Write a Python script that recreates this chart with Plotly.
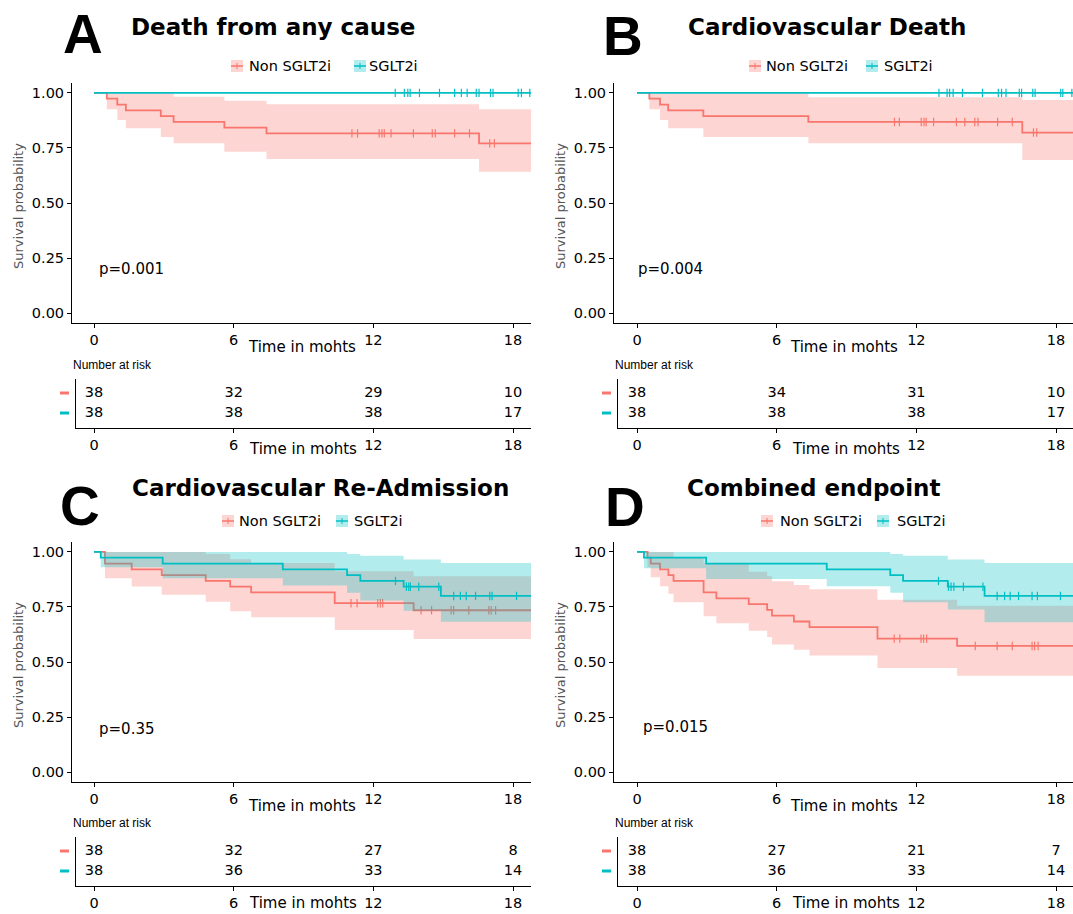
import plotly.graph_objects as go

W, H = 1073, 914
RED = "#F8766D"
TEAL = "#00BFC4"
RED_BAND = "rgba(248,118,109,0.3)"
TEAL_BAND = "rgba(0,191,196,0.3)"
END_T = 18.9

# ---------------- data ----------------
titles = ["Death from any cause", "Cardiovascular Death",
          "Cardiovascular Re-Admission", "Combined endpoint"]
letters = ["A", "B", "C", "D"]
pvals = ["p=0.001", "p=0.004", "p=0.35", "p=0.015"]
groups = ["Non SGLT2i", "SGLT2i"]
risk_times = [0, 6, 12, 18]
x_ticks = [0, 6, 12, 18]
y_ticks = [0, 0.25, 0.5, 0.75, 1.0]
y_ticklabels = ["0.00", "0.25", "0.50", "0.75", "1.00"]

# Panel A
A_red_t = [0.55, 1.0, 1.37, 2.87, 3.42, 5.6, 7.41, 16.54]
A_red_s = [0.974, 0.947, 0.921, 0.895, 0.868, 0.842, 0.816, 0.771]
A_red_up = [1.0, 1.0, 1.0, 1.0, 0.983, 0.964, 0.949, 0.926]
A_red_lo = [0.926, 0.877, 0.839, 0.80, 0.771, 0.733, 0.70, 0.642]
A_red_cens = [11.08, 11.32, 12.25, 12.37, 12.47, 12.76, 13.72, 14.53, 14.66,
              15.49, 16.13, 17.0, 17.2]
A_teal_t = []
A_teal_s = []
A_teal_up = []
A_teal_lo = []
A_teal_cens = [12.94, 13.33, 13.48, 13.58, 13.98, 14.84, 15.49, 15.78, 16.03,
               16.42, 16.54, 17.03, 17.14, 18.22, 18.36, 18.72, 18.87]
A_risk_red = [38, 32, 29, 10]
A_risk_teal = [38, 38, 38, 17]

# Panel B
B_red_t = [0.53, 0.99, 1.34, 2.85, 7.36, 16.55]
B_red_s = [0.974, 0.947, 0.921, 0.895, 0.868, 0.82]
B_red_up = [1.0, 1.0, 1.0, 1.0, 0.98, 0.968]
B_red_lo = [0.926, 0.877, 0.839, 0.80, 0.771, 0.695]
B_red_cens = [11.06, 11.27, 12.21, 12.33, 12.42, 12.74, 13.72, 14.08, 14.51,
              14.65, 15.49, 16.12, 17.03, 17.17]
B_teal_t = []
B_teal_s = []
B_teal_up = []
B_teal_lo = []
B_teal_cens = [12.97, 13.32, 13.43, 13.58, 13.98, 14.84, 15.52, 15.66, 15.85,
               16.42, 16.52, 17.0, 17.1, 18.2, 18.29, 18.68]
B_risk_red = [38, 34, 31, 10]
B_risk_teal = [38, 38, 38, 17]

# Panel C
C_red_t = [0.47, 1.62, 2.91, 4.8, 5.85, 6.75, 10.34, 13.73]
C_red_s = [0.947, 0.921, 0.895, 0.868, 0.842, 0.816, 0.767, 0.735]
C_red_up = [1.0, 1.0, 1.0, 0.99, 0.967, 0.95, 0.912, 0.89]
C_red_lo = [0.88, 0.843, 0.805, 0.774, 0.73, 0.703, 0.645, 0.605]
C_red_cens = [11.04, 11.3, 12.19, 12.3, 12.4, 14.05, 14.5, 15.34, 15.45, 16.1,
              16.96, 17.06, 17.25]
C_teal_t = [0.29, 2.95, 8.11, 10.87, 11.44, 13.3, 14.9]
C_teal_s = [0.974, 0.947, 0.921, 0.895, 0.868, 0.842, 0.80]
C_teal_up = [1.0, 1.0, 1.0, 0.991, 0.983, 0.965, 0.95]
C_teal_lo = [0.93, 0.88, 0.847, 0.815, 0.779, 0.733, 0.683]
C_teal_cens = [12.95, 13.42, 13.52, 13.59, 13.95, 14.81, 15.45, 15.74, 15.99,
               16.39, 17.0, 17.1, 18.15, 18.83]
C_risk_red = [38, 32, 27, 8]
C_risk_teal = [38, 36, 33, 14]

# Panel D
D_red_t = [0.45, 0.59, 0.99, 1.35, 1.57, 2.86, 3.41, 4.8, 5.59, 5.8, 6.74,
           7.41, 10.33, 13.75]
D_red_s = [0.974, 0.947, 0.921, 0.895, 0.868, 0.816, 0.789, 0.763, 0.737,
           0.711, 0.684, 0.658, 0.606, 0.573]
D_red_up = [1.0, 1.0, 1.0, 1.0, 0.976, 0.95, 0.95, 0.91, 0.89, 0.867, 0.85,
            0.83, 0.783, 0.755]
D_red_lo = [0.93, 0.885, 0.844, 0.81, 0.771, 0.708, 0.676, 0.642, 0.613,
            0.58, 0.556, 0.529, 0.473, 0.438]
D_red_cens = [11.05, 11.29, 12.2, 12.31, 12.44, 14.53, 15.47, 16.12, 16.97,
              17.08, 17.23]
D_teal_t = [0.30, 2.97, 8.15, 10.88, 11.43, 13.35, 14.93]
D_teal_s = [0.974, 0.947, 0.921, 0.895, 0.868, 0.842, 0.80]
D_teal_up = [1.0, 1.0, 1.0, 0.99, 0.983, 0.965, 0.95]
D_teal_lo = [0.926, 0.877, 0.844, 0.815, 0.771, 0.738, 0.68]
D_teal_cens = [12.95, 13.38, 13.49, 13.61, 14.02, 14.86, 15.47, 15.79, 16.03,
               16.39, 16.97, 17.2, 18.19]
D_risk_red = [38, 27, 21, 7]
D_risk_teal = [38, 36, 33, 14]

panels = [
    dict(red=(A_red_t, A_red_s, A_red_up, A_red_lo, A_red_cens),
         teal=(A_teal_t, A_teal_s, A_teal_up, A_teal_lo, A_teal_cens),
         risk=(A_risk_red, A_risk_teal)),
    dict(red=(B_red_t, B_red_s, B_red_up, B_red_lo, B_red_cens),
         teal=(B_teal_t, B_teal_s, B_teal_up, B_teal_lo, B_teal_cens),
         risk=(B_risk_red, B_risk_teal)),
    dict(red=(C_red_t, C_red_s, C_red_up, C_red_lo, C_red_cens),
         teal=(C_teal_t, C_teal_s, C_teal_up, C_teal_lo, C_teal_cens),
         risk=(C_risk_red, C_risk_teal)),
    dict(red=(D_red_t, D_red_s, D_red_up, D_red_lo, D_red_cens),
         teal=(D_teal_t, D_teal_s, D_teal_up, D_teal_lo, D_teal_cens),
         risk=(D_risk_red, D_risk_teal)),
]

# ---------------- layout geometry (pixels) ----------------
def px(x):
    return x / W


def py(y):
    return 1 - y / H


PXM = 23.28  # pixels per month
geo = [
    dict(pl=72, pr=531, x0=94, top=83, bot=323, ttop=379, tbot=428, tl=76, dy=0),
    dict(pl=614, pr=1073, x0=637, top=83, bot=323, ttop=379, tbot=428, tl=618, dy=0),
    dict(pl=72, pr=531, x0=94, top=542, bot=782, ttop=837, tbot=886, tl=76, dy=458),
    dict(pl=614, pr=1073, x0=637, top=542, bot=782, ttop=837, tbot=886, tl=618, dy=458),
]
title_pos = [(273, 27), (827, 27), (320, 488), (813, 488)]
letter_pos = [(83, 34), (623, 36), (80, 506), (625, 507)]
legend_pos = [((237, 247), (360, 367), 66), ((755, 764), (872, 882), 66),
              ((228, 237), (342, 352), 521), ((767, 778), (883, 895), 521)]
pval_pos = [(97, 269), (636, 269), (97, 729), (641, 727)]

FONT = "DejaVu Sans"
fig = go.Figure()
annotations = []
shapes = []
layout_axes = {}


def step_xy(t, s):
    return [0] + list(t) + [END_T], [1.0] + list(s) + [s[-1] if s else 1.0]


def surv_at(t, s, x):
    v = 1.0
    for ti, si in zip(t, s):
        if ti <= x:
            v = si
    return v


for i, (p, g) in enumerate(zip(panels, geo)):
    ax_p = 2 * i + 1
    ax_t = 2 * i + 2
    xa_p, ya_p = f"x{ax_p}", f"y{ax_p}"
    xa_t, ya_t = f"x{ax_t}", f"y{ax_t}"

    for key, col, band in (("red", RED, RED_BAND), ("teal", TEAL, TEAL_BAND)):
        t, s, up, lo, cens = p[key]
        if t:
            bx, blo = step_xy(t, lo)
            _, bup = step_xy(t, up)
            fig.add_trace(go.Scatter(x=bx, y=blo, mode="lines", line=dict(width=0, shape="hv"),
                                     xaxis=xa_p, yaxis=ya_p, hoverinfo="skip"))
            fig.add_trace(go.Scatter(x=bx, y=bup, mode="lines", line=dict(width=0, shape="hv"),
                                     fill="tonexty", fillcolor=band,
                                     xaxis=xa_p, yaxis=ya_p, hoverinfo="skip"))
        lx, ly = step_xy(t, s)
        fig.add_trace(go.Scatter(x=lx, y=ly, mode="lines", line=dict(color=col, width=1.8, shape="hv"),
                                 xaxis=xa_p, yaxis=ya_p))
        cy = [surv_at(t, s, c) for c in cens]
        fig.add_trace(go.Scatter(x=cens, y=cy, mode="markers",
                                 marker=dict(symbol="line-ns", size=6,
                                             line=dict(color=col, width=1.2)),
                                 xaxis=xa_p, yaxis=ya_p, cliponaxis=False))

    # risk table
    rr, rt = p["risk"]
    fig.add_trace(go.Scatter(x=risk_times, y=[1] * 4, mode="text", text=[str(v) for v in rr],
                             textfont=dict(family=FONT, size=14.5, color="black"),
                             textposition="middle center", xaxis=xa_t, yaxis=ya_t, cliponaxis=False))
    fig.add_trace(go.Scatter(x=risk_times, y=[0] * 4, mode="text", text=[str(v) for v in rt],
                             textfont=dict(family=FONT, size=14.5, color="black"),
                             textposition="middle center", xaxis=xa_t, yaxis=ya_t, cliponaxis=False))

    tick_font = dict(family=FONT, size=14.5, color="black")
    common_x = dict(showline=True, linecolor="black", linewidth=1, ticks="outside", ticklen=4,
                    tickcolor="black", tickfont=tick_font, showgrid=False, zeroline=False,
                    tickvals=x_ticks, ticktext=[str(v) for v in x_ticks], fixedrange=True)
    layout_axes[f"xaxis{ax_p}"] = dict(common_x, domain=[px(g["pl"]), px(g["pr"])],
                                       range=[(g["pl"] - g["x0"]) / PXM, (g["pr"] - g["x0"]) / PXM],
                                       anchor=ya_p)
    layout_axes[f"yaxis{ax_p}"] = dict(showline=True, linecolor="black", linewidth=1, ticks="outside",
                                       ticklen=4, tickcolor="black", tickfont=tick_font, showgrid=False,
                                       zeroline=False, tickvals=y_ticks, ticktext=y_ticklabels,
                                       domain=[py(g["bot"]), py(g["top"])], range=[-0.045, 1.045],
                                       anchor=xa_p, fixedrange=True)
    layout_axes[f"xaxis{ax_t}"] = dict(common_x, domain=[px(g["tl"]), px(g["pr"])],
                                       range=[(g["tl"] - g["x0"]) / PXM, (g["pr"] - g["x0"]) / PXM],
                                       anchor=ya_t)
    layout_axes[f"yaxis{ax_t}"] = dict(showline=True, linecolor="black", linewidth=1, ticks="",
                                       showticklabels=False, showgrid=False, zeroline=False,
                                       domain=[py(g["tbot"]), py(g["ttop"])], range=[-0.75, 1.7],
                                       anchor=xa_t, fixedrange=True)

    dy = g["dy"]
    cx_plot = (g["pl"] + g["pr"]) / 2
    cx_tab = (g["tl"] + g["pr"]) / 2
    annotations.append(dict(x=px(cx_plot), y=py(g["bot"] + 24), text="Time in mohts", showarrow=False,
                            xref="paper", yref="paper", xanchor="center", yanchor="middle",
                            font=dict(family=FONT, size=15, color="black")))
    annotations.append(dict(x=px(cx_tab), y=py(min(g["tbot"] + 21, H - 11)), text="Time in mohts",
                            showarrow=False, xref="paper", yref="paper", xanchor="center",
                            yanchor="middle", font=dict(family=FONT, size=15, color="black")))
    annotations.append(dict(x=px(g["pl"] - 54), y=py((g["top"] + g["bot"]) / 2 + 3),
                            text="Survival probability", showarrow=False, textangle=-90,
                            xref="paper", yref="paper", xanchor="center", yanchor="middle",
                            font=dict(family=FONT, size=13, color="#555555")))
    annotations.append(dict(x=px(g["pl"] - 1), y=py(365 + dy), text="Number at risk", showarrow=False,
                            xref="paper", yref="paper", xanchor="left", yanchor="middle",
                            font=dict(family="Liberation Sans", size=12, color="black")))
    for yy, col in ((393 + dy, RED), (413 + dy, TEAL)):
        shapes.append(dict(type="line", xref="paper", yref="paper",
                           x0=px(g["pl"] - 12), x1=px(g["pl"] - 3), y0=py(yy), y1=py(yy),
                           line=dict(color=col, width=3)))
    annotations.append(dict(x=px(pval_pos[i][0]), y=py(pval_pos[i][1]), text=pvals[i], showarrow=False,
                            xref="paper", yref="paper", xanchor="left", yanchor="middle",
                            font=dict(family=FONT, size=15, color="black")))
    annotations.append(dict(x=px(title_pos[i][0]), y=py(title_pos[i][1]), text=f"<b>{titles[i]}</b>",
                            showarrow=False, xref="paper", yref="paper", xanchor="center",
                            yanchor="middle", font=dict(family=FONT, size=23, color="black")))
    annotations.append(dict(x=px(letter_pos[i][0]), y=py(letter_pos[i][1]), text=f"<b>{letters[i]}</b>",
                            showarrow=False, xref="paper", yref="paper", xanchor="center",
                            yanchor="middle", font=dict(family="Liberation Sans", size=55, color="black")))
    (rs, rtx), (ts, ttx), ly = legend_pos[i]
    for (sx, tx), col, band, name in (((rs, rtx), RED, RED_BAND, groups[0]),
                                      ((ts, ttx), TEAL, TEAL_BAND, groups[1])):
        shapes.append(dict(type="rect", xref="paper", yref="paper", x0=px(sx - 6), x1=px(sx + 6),
                           y0=py(ly + 6), y1=py(ly - 6), fillcolor=band, line=dict(width=0)))
        shapes.append(dict(type="line", xref="paper", yref="paper", x0=px(sx - 6), x1=px(sx + 6),
                           y0=py(ly), y1=py(ly), line=dict(color=col, width=1.5)))
        shapes.append(dict(type="line", xref="paper", yref="paper", x0=px(sx), x1=px(sx),
                           y0=py(ly - 3), y1=py(ly + 3), line=dict(color=col, width=1)))
        annotations.append(dict(x=px(tx), y=py(ly), text=name, showarrow=False, xref="paper",
                                yref="paper", xanchor="left", yanchor="middle",
                                font=dict(family=FONT, size=14.5, color="black")))

fig.update_layout(width=W, height=H, margin=dict(l=0, r=0, t=0, b=0), showlegend=False,
                  plot_bgcolor="white", paper_bgcolor="white", annotations=annotations,
                  shapes=shapes, **layout_axes)

fig.write_html("out.html", config={"displayModeBar": False},
               post_script="document.body.style.margin='0';document.body.style.overflow='hidden';")
